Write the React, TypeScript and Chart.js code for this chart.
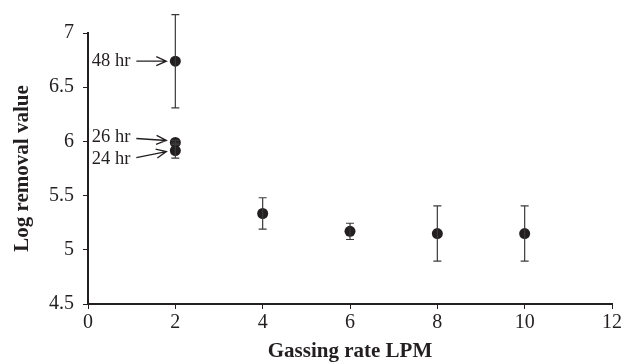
import React, { useEffect, useRef } from "react";
import { Chart, registerables } from "chart.js";

Chart.register(...registerables);

const gassingRate = [2, 2, 2, 4, 6, 8, 10];
const logRemoval = [6.74, 5.99, 5.915, 5.335, 5.17, 5.15, 5.15];
const errorValues = [0.43, 0.02, 0.07, 0.145, 0.075, 0.255, 0.255];
const pointLabels = ["48 hr", "26 hr", "24 hr", "", "", "", ""];
const xTitle = "Gassing rate LPM";
const yTitle = "Log removal value";

const INK = "#231f20";
const FONT = "'Liberation Serif', 'Times New Roman', serif";

const errorBarPlugin = {
  id: "errorBars",
  afterDatasetsDraw(chart: any) {
    const ctx = chart.ctx;
    const xs = chart.scales.x;
    const ys = chart.scales.y;
    ctx.save();
    ctx.strokeStyle = "#3a3a3a";
    ctx.lineWidth = 1.2;
    gassingRate.forEach((xv, i) => {
      const e = errorValues[i];
      const px = xs.getPixelForValue(xv);
      const top = ys.getPixelForValue(logRemoval[i] + e);
      const bot = ys.getPixelForValue(logRemoval[i] - e);
      ctx.beginPath();
      ctx.moveTo(px, top);
      ctx.lineTo(px, bot);
      ctx.moveTo(px - 4, top);
      ctx.lineTo(px + 4, top);
      ctx.moveTo(px - 4, bot);
      ctx.lineTo(px + 4, bot);
      ctx.stroke();
    });
    ctx.restore();
  },
};

const annotationPlugin = {
  id: "arrowLabels",
  afterDatasetsDraw(chart: any) {
    const ctx = chart.ctx;
    const xs = chart.scales.x;
    const ys = chart.scales.y;
    // [textDy, arrowStartDy, arrowEndDy]
    const geom: Record<number, number[]> = {
      0: [0, 0, 0],
      1: [-5, -4, -2],
      2: [9, 7, 1],
    };
    ctx.save();
    ctx.font = `18.5px ${FONT}`;
    ctx.fillStyle = INK;
    ctx.strokeStyle = INK;
    ctx.lineWidth = 1.3;
    ctx.textAlign = "right";
    ctx.textBaseline = "middle";
    pointLabels.forEach((label, i) => {
      if (!label) return;
      const g = geom[i] || [0, 0, 0];
      const px = xs.getPixelForValue(gassingRate[i]);
      const py = ys.getPixelForValue(logRemoval[i]);
      ctx.fillText(label, px - 45, py + g[0]);
      const sx = px - 39;
      const sy = py + g[1];
      const ex = px - 9;
      const ey = py + g[2];
      ctx.beginPath();
      ctx.moveTo(sx, sy);
      ctx.lineTo(ex, ey);
      const ang = Math.atan2(ey - sy, ex - sx);
      const hl = 11;
      const ha = 0.42;
      ctx.moveTo(ex - hl * Math.cos(ang - ha), ey - hl * Math.sin(ang - ha));
      ctx.lineTo(ex, ey);
      ctx.lineTo(ex - hl * Math.cos(ang + ha), ey - hl * Math.sin(ang + ha));
      ctx.stroke();
    });
    ctx.restore();
  },
};

export default function App() {
  const ref = useRef<HTMLCanvasElement | null>(null);
  useEffect(() => {
    document.body.style.margin = "0";
    if (!ref.current) return;
    const chart = new Chart(ref.current, {
      type: "scatter",
      data: {
        datasets: [
          {
            data: gassingRate.map((x, i) => ({ x, y: logRemoval[i] })),
            backgroundColor: INK,
            borderWidth: 0,
            pointRadius: 5.5,
            pointHoverRadius: 5.5,
          },
        ],
      },
      options: {
        animation: false,
        responsive: false,
        maintainAspectRatio: false,
        layout: { padding: { left: 0, top: 33, right: 11, bottom: 0 } },
        plugins: { legend: { display: false }, tooltip: { enabled: false } },
        scales: {
          x: {
            type: "linear",
            min: 0,
            max: 12,
            ticks: {
              stepSize: 2,
              color: INK,
              font: { family: FONT, size: 20 },
              padding: 2,
              callback: (v: any) => String(v),
            },
            grid: { drawOnChartArea: false, drawTicks: true, tickLength: 5, color: INK, lineWidth: 1 },
            border: { display: true, color: INK, width: 2 },
            title: {
              display: true,
              text: xTitle,
              color: INK,
              font: { family: FONT, size: 21, weight: "bold" },
              padding: { top: 4, bottom: 0 },
            },
            afterFit(scale: any) {
              scale.height = 60;
            },
          },
          y: {
            type: "linear",
            min: 4.5,
            max: 7,
            ticks: {
              stepSize: 0.5,
              color: INK,
              font: { family: FONT, size: 20 },
              padding: 9,
              callback: (v: any) => String(Number(v)),
            },
            grid: { drawOnChartArea: false, drawTicks: true, tickLength: 5, color: INK, lineWidth: 1 },
            border: { display: true, color: INK, width: 2 },
            title: {
              display: true,
              text: yTitle,
              color: INK,
              font: { family: FONT, size: 21, weight: "bold" },
              padding: { top: 10, bottom: 0 },
            },
            afterFit(scale: any) {
              scale.width = 88;
            },
          },
        },
      },
      plugins: [errorBarPlugin, annotationPlugin],
    } as any);
    return () => chart.destroy();
  }, []);
  return (
    <div style={{ width: 624, height: 364 }}>
      <canvas ref={ref} width={624} height={364} />
    </div>
  );
}
